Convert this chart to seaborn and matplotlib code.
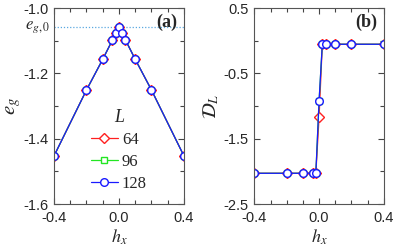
import matplotlib
matplotlib.use("Agg")
import matplotlib.pyplot as plt
import matplotlib.transforms as mtransforms
from matplotlib.ticker import MultipleLocator, FixedLocator
import seaborn as sns
import pandas as pd

# === data ===
hx = [-0.4, -0.2, -0.1, -0.04, -0.02, 0.0, 0.02, 0.04, 0.1, 0.2, 0.4]
sizes = [64, 96, 128]

eg_64 = [-1.453, -1.251, -1.157, -1.098, -1.077, -1.057, -1.077, -1.098, -1.157, -1.251, -1.453]
eg_96 = [-1.453, -1.251, -1.157, -1.098, -1.077, -1.057, -1.077, -1.098, -1.157, -1.251, -1.453]
eg_128 = [-1.453, -1.251, -1.157, -1.098, -1.077, -1.057, -1.077, -1.098, -1.157, -1.251, -1.453]
eg0 = -1.058

dl_64 = [-2.03, -2.03, -2.03, -2.03, -2.03, -1.17, -0.055, -0.055, -0.055, -0.055, -0.055]
dl_96 = [-2.03, -2.03, -2.03, -2.03, -2.03, -0.92, -0.055, -0.055, -0.055, -0.055, -0.055]
dl_128 = [-2.03, -2.03, -2.03, -2.03, -2.03, -0.92, -0.055, -0.055, -0.055, -0.055, -0.055]

rows = []
for L, eg, dl in zip(sizes, [eg_64, eg_96, eg_128], [dl_64, dl_96, dl_128]):
    for h, e, d in zip(hx, eg, dl):
        rows.append({"L": L, "hx": h, "eg": e, "DL": d})
df = pd.DataFrame(rows)

sns.set_style("ticks")
plt.rcParams["font.family"] = ["Liberation Sans", "DejaVu Sans"]
plt.rcParams["mathtext.fontset"] = "stix"

colors = {64: "#ff2020", 96: "#22e622", 128: "#1a1aff"}
markers = {64: "D", 96: "s", 128: "o"}
msizes = {64: 5.0, 96: 4.5, 128: 5.5}

fig = plt.figure(figsize=(3.95, 2.5), dpi=100)
axa = fig.add_axes([0.1367, 0.184, 0.329, 0.784])
axb = fig.add_axes([0.644, 0.184, 0.3276, 0.784])

for ax, col in [(axa, "eg"), (axb, "DL")]:
    for L in sizes:
        sub = df[df["L"] == L]
        sns.lineplot(data=sub, x="hx", y=col, ax=ax, color=colors[L],
                     marker=markers[L], markersize=msizes[L],
                     markerfacecolor="white", markeredgecolor=colors[L],
                     markeredgewidth=1.0, linewidth=0.9, label=str(L),
                     estimator=None, sort=False)

# --- panel (a) ---
axa.axhline(eg0, color="#5aa8e0", linestyle=(0, (1, 1.5)), linewidth=0.9, zorder=0)
axa.set_xlim(-0.4, 0.4)
axa.set_ylim(-1.6, -1.0)
axa.xaxis.set_major_locator(FixedLocator([-0.4, 0.0, 0.4]))
axa.xaxis.set_minor_locator(MultipleLocator(0.1))
axa.yaxis.set_major_locator(FixedLocator([-1.6, -1.4, -1.2, -1.0]))
axa.yaxis.set_minor_locator(MultipleLocator(0.1))
axa.set_xticklabels(["-0.4", "0.0", "0.4"])
axa.set_yticklabels(["-1.6", "-1.4", "-1.2", "-1.0"])
axa.set_xlabel(r"$h_x$", fontsize=13, labelpad=2)
axa.set_ylabel(r"$e_g$", fontsize=15, labelpad=0)
trans = mtransforms.blended_transform_factory(axa.transAxes, axa.transData)
axa.text(-0.03, eg0, r"$e_{g,0}$", transform=trans, ha="right", va="center", fontsize=12)
axa.text(0.95, 0.925, "(a)", transform=axa.transAxes, ha="right", va="center",
         fontsize=13, fontweight="bold", family="Liberation Serif")
leg = axa.legend(title="L", loc="lower center", bbox_to_anchor=(0.5, 0.0),
                 frameon=False, handlelength=1.6, handletextpad=0.25,
                 labelspacing=0.35, borderaxespad=0.35,
                 prop={"family": "Liberation Serif", "size": 12})
leg.get_title().set_fontfamily("Liberation Serif")
leg.get_title().set_fontstyle("italic")
leg.get_title().set_fontsize(13)

# --- panel (b) ---
axb.set_xlim(-0.4, 0.4)
axb.set_ylim(-2.5, 0.5)
axb.xaxis.set_major_locator(FixedLocator([-0.4, 0.0, 0.4]))
axb.xaxis.set_minor_locator(MultipleLocator(0.1))
axb.yaxis.set_major_locator(FixedLocator([-2.5, -1.5, -0.5, 0.5]))
axb.yaxis.set_minor_locator(FixedLocator([-2.0, -1.0, 0.0]))
axb.set_xticklabels(["-0.4", "0.0", "0.4"])
axb.set_yticklabels(["-2.5", "-1.5", "-0.5", "0.5"])
axb.set_xlabel(r"$h_x$", fontsize=13, labelpad=2)
axb.set_ylabel(r"$\mathcal{D}_L$", fontsize=14, labelpad=2)
axb.text(0.95, 0.925, "(b)", transform=axb.transAxes, ha="right", va="center",
         fontsize=13, fontweight="bold", family="Liberation Serif")
if axb.get_legend():
    axb.get_legend().remove()

for ax in (axa, axb):
    ax.tick_params(which="both", direction="in", top=True, right=True,
                   labelsize=10.5, color="#444444")
    ax.tick_params(axis="x", pad=5)
    ax.tick_params(axis="y", pad=4)
    ax.tick_params(which="major", length=4, width=0.8)
    ax.tick_params(which="minor", length=3, width=0.8)
    for s in ax.spines.values():
        s.set_color("#555555")
        s.set_linewidth(0.8)

fig.savefig("out.png", dpi=100)
